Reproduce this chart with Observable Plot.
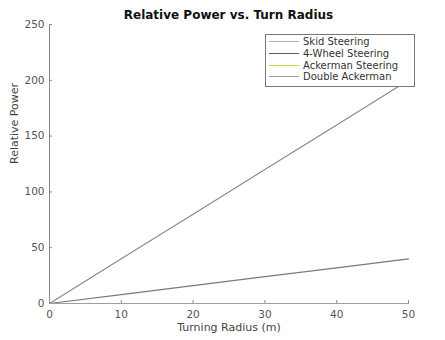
<!DOCTYPE html>
<html><head><meta charset="utf-8">
<script src="https://cdn.jsdelivr.net/npm/d3@7"></script>
<script src="https://cdn.jsdelivr.net/npm/@observablehq/plot@0.6"></script>
<style>
body{margin:0;background:#fff;font-family:"DejaVu Sans",sans-serif;}
#wrap{position:relative;width:445px;height:340px;}
#title{position:absolute;top:7px;left:49px;width:359px;text-align:center;font-weight:bold;font-size:12px;line-height:16px;color:#111;}
#legend{position:absolute;left:265px;top:34px;width:148px;border:1px solid #777;background:#fff;padding:1px 0 3px 0;font-size:10px;color:#333;}
.row{display:flex;align-items:center;height:11.7px;}
.sw{width:30px;height:0;border-top:1px solid;margin:0 4px 0 3px;}
</style></head>
<body><div id="wrap"><div id="title"></div><div id="chart"></div><div id="legend"></div></div>
<script>
const title = "Relative Power vs. Turn Radius";
const xLabel = "Turning Radius (m)";
const yLabel = "Relative Power";
const radius = [0, 10, 20, 30, 40, 50];
const seriesNames = ["Skid Steering", "4-Wheel Steering", "Ackerman Steering", "Double Ackerman"];
const skid = [0, 40, 80, 120, 160, 200];
const fourWheel = [0, 8, 16, 24, 32, 40];
const ackerman = [0, 0, 0, 0, 0, 0];
const doubleAckerman = [0, 0, 0, 0, 0, 0];
const xTicks = [0, 10, 20, 30, 40, 50];
const yTicks = [0, 50, 100, 150, 200, 250];
const lineColors = ["#8a8a8a", "#7a7a7a", "#c9d64a", "#9a9fa6"];
const legendColors = ["#b0b0b0", "#606060", "#c9d64a", "#9a9fa6"];

const allSeries = [skid, fourWheel, ackerman, doubleAckerman];
const data = [];
allSeries.forEach((vals, i) => vals.forEach((v, j) => data.push({series: seriesNames[i], r: radius[j], p: v})));

document.getElementById("title").textContent = title;

const chart = Plot.plot({
  width: 445, height: 340,
  marginLeft: 49, marginRight: 37, marginTop: 24, marginBottom: 37,
  style: {fontFamily: "DejaVu Sans, sans-serif", fontSize: "10.5px", color: "#555", overflow: "visible"},
  x: {domain: [0, 50], ticks: xTicks},
  y: {domain: [0, 250], ticks: yTicks},
  color: {domain: seriesNames, range: lineColors},
  marks: [
    Plot.ruleY([0], {stroke: "#888"}),
    Plot.ruleX([0], {stroke: "#888"}),
    Plot.axisX({ticks: xTicks, tickSize: -3, tickPadding: 10, label: null, stroke: "#888"}),
    Plot.axisY({ticks: yTicks, tickSize: -3, tickPadding: 8, label: null, stroke: "#888"}),
    Plot.text([xLabel], {frameAnchor: "bottom", dy: 27, fontSize: 11, fill: "#444"}),
    Plot.text([yLabel], {frameAnchor: "left", dx: -35, rotate: -90, fontSize: 11, fill: "#444"}),
    Plot.line(data, {x: "r", y: "p", z: "series", stroke: "series", strokeWidth: 1.2})
  ]
});
document.getElementById("chart").appendChild(chart);

const leg = document.getElementById("legend");
seriesNames.forEach((n, i) => {
  const row = document.createElement("div"); row.className = "row";
  const sw = document.createElement("div"); sw.className = "sw"; sw.style.borderColor = legendColors[i];
  const t = document.createElement("span"); t.textContent = n;
  row.appendChild(sw); row.appendChild(t); leg.appendChild(row);
});
</script></body></html>
